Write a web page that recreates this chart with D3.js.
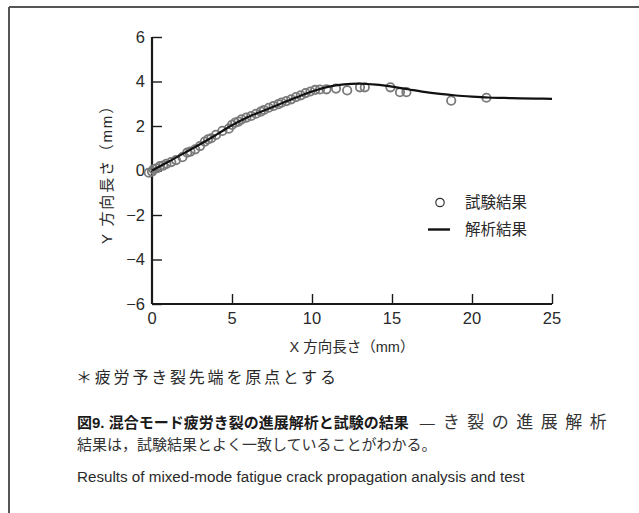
<!DOCTYPE html>
<html><head><meta charset="utf-8">
<script src="https://cdn.jsdelivr.net/npm/d3@7"></script>
<style>
body{margin:0;background:#fff;}
svg{display:block;}
</style></head>
<body>
<svg id="c" width="639" height="513"></svg>
<script>
// ---- data ----
const xTicks = [0, 5, 10, 15, 20, 25];
const yTicks = [-6, -4, -2, 0, 2, 4, 6];
const analysisX = [0, 1, 2, 3, 4, 5, 6, 7, 8, 9, 10, 11, 12, 13, 14, 15, 16, 17, 18, 19, 20, 21, 22, 23, 24, 25];
const analysisY = [0, 0.38, 0.78, 1.18, 1.6, 2.03, 2.4, 2.7, 2.99, 3.28, 3.55, 3.76, 3.87, 3.9, 3.86, 3.77, 3.65, 3.53, 3.44, 3.37, 3.32, 3.28, 3.26, 3.24, 3.23, 3.22];
const testX = [-0.2, 0, 0.1, 0.3, 0.5, 0.7, 0.9, 1.2, 1.5, 1.9, 2.2, 2.4, 2.7, 3.0, 3.3, 3.5, 3.7, 4.0, 4.4, 4.8, 5.0, 5.2, 5.4, 5.6, 5.9, 6.2, 6.5, 6.8, 7.0, 7.3, 7.6, 7.9, 8.1, 8.4, 8.7, 9.0, 9.3, 9.6, 9.9, 10.2, 10.5, 10.9, 11.5, 12.2, 13.0, 13.3, 14.9, 15.5, 15.9, 18.7, 20.9];
const testY = [-0.1, -0.05, 0.05, 0.1, 0.2, 0.22, 0.3, 0.38, 0.47, 0.6, 0.8, 0.85, 0.95, 1.1, 1.3, 1.4, 1.45, 1.6, 1.78, 1.88, 2.05, 2.15, 2.2, 2.3, 2.38, 2.45, 2.55, 2.65, 2.72, 2.82, 2.9, 2.98, 3.05, 3.12, 3.2, 3.3, 3.38, 3.48, 3.55, 3.62, 3.64, 3.65, 3.68, 3.6, 3.74, 3.74, 3.74, 3.52, 3.52, 3.14, 3.27];
const legendLabels = ["試験結果", "解析結果"];
const xTitle = "X 方向長さ（mm）";
const yTitle = "Y 方向長さ（mm）";
const footnote = "＊疲労予き裂先端を原点とする";
const captionBold = "図9.  混合モード疲労き裂の進展解析と試験の結果";
const captionDash = "—";
const captionRest = "き裂の進展解析";
const captionLine2 = "結果は，試験結果とよく一致していることがわかる。";
const captionEn = "Results of mixed-mode fatigue crack propagation analysis and test";

// ---- drawing ----
const svg = d3.select("#c");
const sans = "'Liberation Sans', Arial, 'Noto Sans CJK JP', sans-serif";
const cjk = "'Liberation Sans', 'Noto Sans CJK JP', sans-serif";

// frame
svg.append("line").attr("x1", 9).attr("y1", 7).attr("x2", 639).attr("y2", 7).attr("stroke", "#555").attr("stroke-width", 2);
svg.append("line").attr("x1", 9).attr("y1", 7).attr("x2", 9).attr("y2", 513).attr("stroke", "#555").attr("stroke-width", 2);

const x = d3.scaleLinear().domain([0, 25]).range([152, 552]);
const y = d3.scaleLinear().domain([-6, 6]).range([304, 37]);

const g = svg.append("g");

// y axis (ticks inside -> right)
const yAxis = d3.axisRight(y).tickValues(yTicks).tickSize(10).tickFormat(() => "");
const ya = g.append("g").attr("transform", `translate(${x(0)},0)`).call(yAxis);
ya.select(".domain").attr("stroke", "#1a1a1a").attr("stroke-width", 2.2).attr("d", `M0,${y(6)}V${y(-6)}`);
ya.selectAll(".tick line").attr("stroke", "#1a1a1a").attr("stroke-width", 1.4);
yTicks.forEach(v => {
  g.append("text").attr("x", x(0) - 7).attr("y", y(v)).attr("dy", "0.36em")
    .attr("text-anchor", "end").attr("font-family", sans).attr("font-size", 16.5).attr("fill", "#2a2a2a")
    .text(v < 0 ? "−" + Math.abs(v) : String(v));
});

// x axis (ticks inside -> up)
const xAxis = d3.axisTop(x).tickValues(xTicks.filter(v => v > 0)).tickSize(10).tickFormat(() => "");
const xa = g.append("g").attr("transform", `translate(0,${y(-6)})`).call(xAxis);
xa.select(".domain").attr("stroke", "#1a1a1a").attr("stroke-width", 2.2).attr("d", `M${x(0)},0H${x(25)}`);
xa.selectAll(".tick line").attr("stroke", "#1a1a1a").attr("stroke-width", 1.4);
xTicks.forEach(v => {
  g.append("text").attr("x", x(v)).attr("y", y(-6) + 14).attr("dy", "0.36em")
    .attr("text-anchor", "middle").attr("font-family", sans).attr("font-size", 16.5).attr("fill", "#2a2a2a")
    .text(String(v));
});

// axis titles
g.append("text").attr("x", 352).attr("y", 347).attr("dy", "0.36em").attr("text-anchor", "middle")
  .attr("font-family", cjk).attr("font-size", 14.5).attr("fill", "#2a2a2a").text(xTitle);
g.append("text").attr("transform", `translate(107,${y(0)}) rotate(-90)`).attr("dy", "0.36em").attr("text-anchor", "middle")
  .attr("font-family", cjk).attr("font-size", 15).attr("letter-spacing", 1.8).attr("fill", "#2a2a2a").text(yTitle);

// test points
const pts = testX.map((v, i) => [v, testY[i]]);
g.append("g").selectAll("circle").data(pts).join("circle")
  .attr("cx", d => x(d[0])).attr("cy", d => y(d[1])).attr("r", 4.2)
  .attr("fill", "none").attr("stroke", "#7a7a7a").attr("stroke-width", 1.8);

// analysis line
const lineData = analysisX.map((v, i) => [v, analysisY[i]]);
g.append("path").datum(lineData)
  .attr("d", d3.line().x(d => x(d[0])).y(d => y(d[1])).curve(d3.curveCatmullRom))
  .attr("fill", "none").attr("stroke", "#111").attr("stroke-width", 2.2);

// legend
g.append("circle").attr("cx", 440).attr("cy", 202.5).attr("r", 4.2).attr("fill", "none").attr("stroke", "#333").attr("stroke-width", 1.2);
g.append("line").attr("x1", 428).attr("x2", 450).attr("y1", 229.5).attr("y2", 229.5).attr("stroke", "#111").attr("stroke-width", 2.4);
legendLabels.forEach((t, i) => {
  g.append("text").attr("x", 465).attr("y", 202 + i * 27).attr("dy", "0.36em")
    .attr("font-family", cjk).attr("font-size", 15.5).attr("fill", "#2a2a2a").text(t);
});

// footnote and caption
svg.append("text").attr("x", 76).attr("y", 377).attr("dy", "0.36em")
  .attr("font-family", cjk).attr("font-size", 16).attr("letter-spacing", 2.8).attr("fill", "#2a2a2a").text(footnote);

const cap = svg.append("text").attr("x", 77).attr("y", 423).attr("dy", "0.36em")
  .attr("font-family", cjk).attr("font-size", 15).attr("fill", "#1a1a1a");
cap.append("tspan").attr("font-weight", "bold").text(captionBold);
cap.append("tspan").attr("dx", 11).attr("font-weight", "normal").attr("fill", "#333").text(captionDash);
cap.append("tspan").attr("dx", 8).attr("font-weight", "normal").attr("fill", "#333").attr("font-size", 17).attr("letter-spacing", 7.5).text(captionRest);

svg.append("text").attr("x", 77).attr("y", 445).attr("dy", "0.36em")
  .attr("font-family", cjk).attr("font-size", 15).attr("fill", "#333").text(captionLine2);

svg.append("text").attr("x", 77).attr("y", 477).attr("dy", "0.36em")
  .attr("font-family", sans).attr("font-size", 15.2).attr("fill", "#2a2a2a").text(captionEn);
</script>
</body></html>
